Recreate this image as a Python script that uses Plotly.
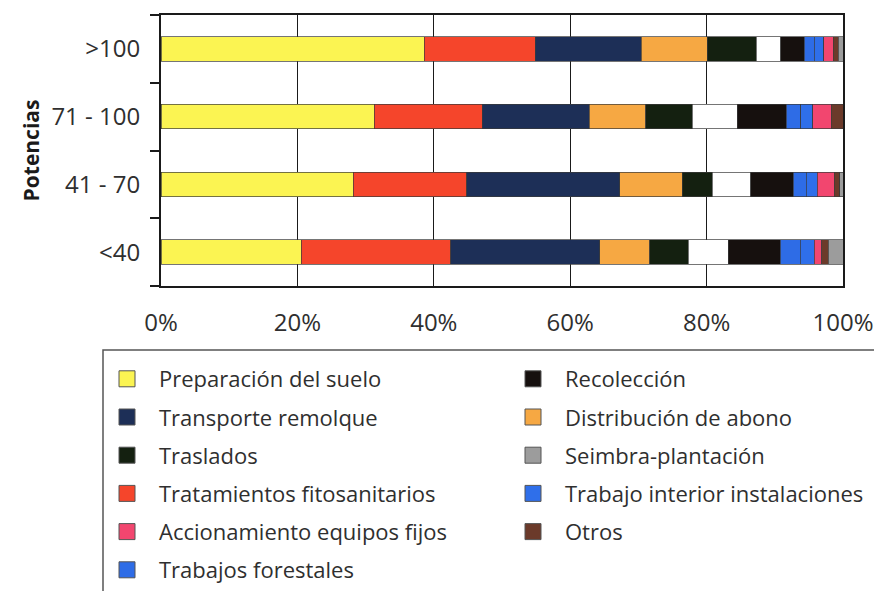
import plotly.graph_objects as go

# ---------------- data ----------------
categories = ["<40", "41 - 70", "71 - 100", ">100"]
tick_labels = ["&lt;40", "41 - 70", "71 - 100", "&gt;100"]
x_tick_vals = [0, 20, 40, 60, 80, 100]
x_tick_labels = ["0%", "20%", "40%", "60%", "80%", "100%"]

# values in %, order: <40, 41-70, 71-100, >100
preparacion = [20.6, 28.2, 31.3, 38.6]
tratamientos = [21.9, 16.6, 15.8, 16.3]
transporte = [21.8, 22.5, 15.7, 15.5]
distribucion = [7.4, 9.1, 8.3, 9.7]
traslados = [5.6, 4.4, 6.8, 7.2]
sin_leyenda = [5.9, 5.7, 6.6, 3.6]
recoleccion = [7.6, 6.2, 7.2, 3.4]
forestales = [2.9, 1.9, 2.1, 1.5]
interior = [2.1, 1.6, 1.8, 1.4]
accionamiento = [1.1, 2.5, 2.7, 1.4]
otros = [0.9, 0.8, 1.7, 0.7]
seimbra = [2.2, 0.5, 0.0, 0.7]

series = [
    ("Preparación del suelo", preparacion, "#FBF452", "legend", 1),
    ("Tratamientos fitosanitarios", tratamientos, "#F5452B", "legend", 4),
    ("Transporte remolque", transporte, "#1D2F57", "legend", 2),
    ("Distribución de abono", distribucion, "#F6A843", "legend2", 2),
    ("Traslados", traslados, "#142010", "legend", 3),
    ("(sin leyenda)", sin_leyenda, "#FFFFFF", None, 0),
    ("Recolección", recoleccion, "#16100E", "legend2", 1),
    ("Trabajos forestales", forestales, "#2E6CE6", "legend", 6),
    ("Trabajo interior instalaciones", interior, "#2F6FEA", "legend2", 4),
    ("Accionamiento equipos fijos", accionamiento, "#F2466F", "legend", 5),
    ("Otros", otros, "#6B3A2A", "legend2", 5),
    ("Seimbra-plantación", seimbra, "#9C9C9C", "legend2", 3),
]

FONT = "'Open Sans', Lato, sans-serif"
TXT = "#2f2f2f"

fig = go.Figure()
for name, vals, color, leg, rank in series:
    fig.add_trace(go.Bar(
        y=categories, x=vals, name=name, orientation="h",
        marker=dict(color=color, line=dict(color="#3a3a3a", width=0.7)),
        width=0.36, showlegend=False,
    ))

# legend entries (larger swatches)
for name, vals, color, leg, rank in series:
    if leg is None:
        continue
    fig.add_trace(go.Scatter(
        x=[None], y=[None], mode="markers", name=name,
        marker=dict(symbol="square", size=19, color=color,
                    line=dict(color="#555555", width=1)),
        legend=leg, legendrank=rank, legendgroup=name, showlegend=True,
    ))

W, H = 874, 591
L, R, T, B = 161, 31, 15, 305
pw, ph = W - L - R, H - T - B

def px_x(p):
    return (p - L) / pw

def px_y(p):
    return (H - B - p) / ph

legend_common = dict(
    font=dict(family=FONT, size=22, color=TXT),
    bgcolor="rgba(0,0,0,0)", borderwidth=0,
    xanchor="left", yanchor="top", traceorder="grouped",
    tracegroupgap=6.6, itemwidth=54,
)

fig.update_layout(
    width=W, height=H,
    margin=dict(l=L, r=R, t=T, b=B, autoexpand=False),
    paper_bgcolor="white", plot_bgcolor="white",
    barmode="stack", bargap=0.64,
    font=dict(family=FONT, size=20, color=TXT),
    legend=dict(x=px_x(95), y=px_y(358), **legend_common),
    legend2=dict(x=px_x(501), y=px_y(358), **legend_common),
    xaxis=dict(
        range=[0, 100], tickvals=x_tick_vals, ticktext=x_tick_labels,
        showgrid=True, gridcolor="#1a1a1a", gridwidth=1,
        showline=True, linecolor="#1a1a1a", linewidth=2, mirror=True,
        ticks="", zeroline=False, ticklabelstandoff=14,
        tickfont=dict(family=FONT, size=24, color=TXT),
    ),
    yaxis=dict(
        categoryorder="array", categoryarray=categories,
        tickvals=categories, ticktext=tick_labels,
        range=[-0.5, 3.5],
        tickson="boundaries", ticks="outside", ticklen=9, tickwidth=1.5,
        tickcolor="#1a1a1a",
        showline=True, linecolor="#1a1a1a", linewidth=2, mirror=True,
        showgrid=False, ticklabelstandoff=14,
        tickfont=dict(family=FONT, size=24, color=TXT),
        title=dict(text="<b>Potencias</b>", standoff=6,
                   font=dict(family=FONT, size=21, color="#1a1a1a")),
    ),
    shapes=[dict(
        type="rect", xref="paper", yref="paper",
        x0=px_x(103), x1=px_x(900), y0=px_y(350), y1=px_y(640),
        line=dict(color="#555555", width=1.5), fillcolor="rgba(0,0,0,0)",
        layer="above",
    )],
)

fig.write_html("out.html", config={"displayModeBar": False},
               post_script="document.body.style.margin='0';")
